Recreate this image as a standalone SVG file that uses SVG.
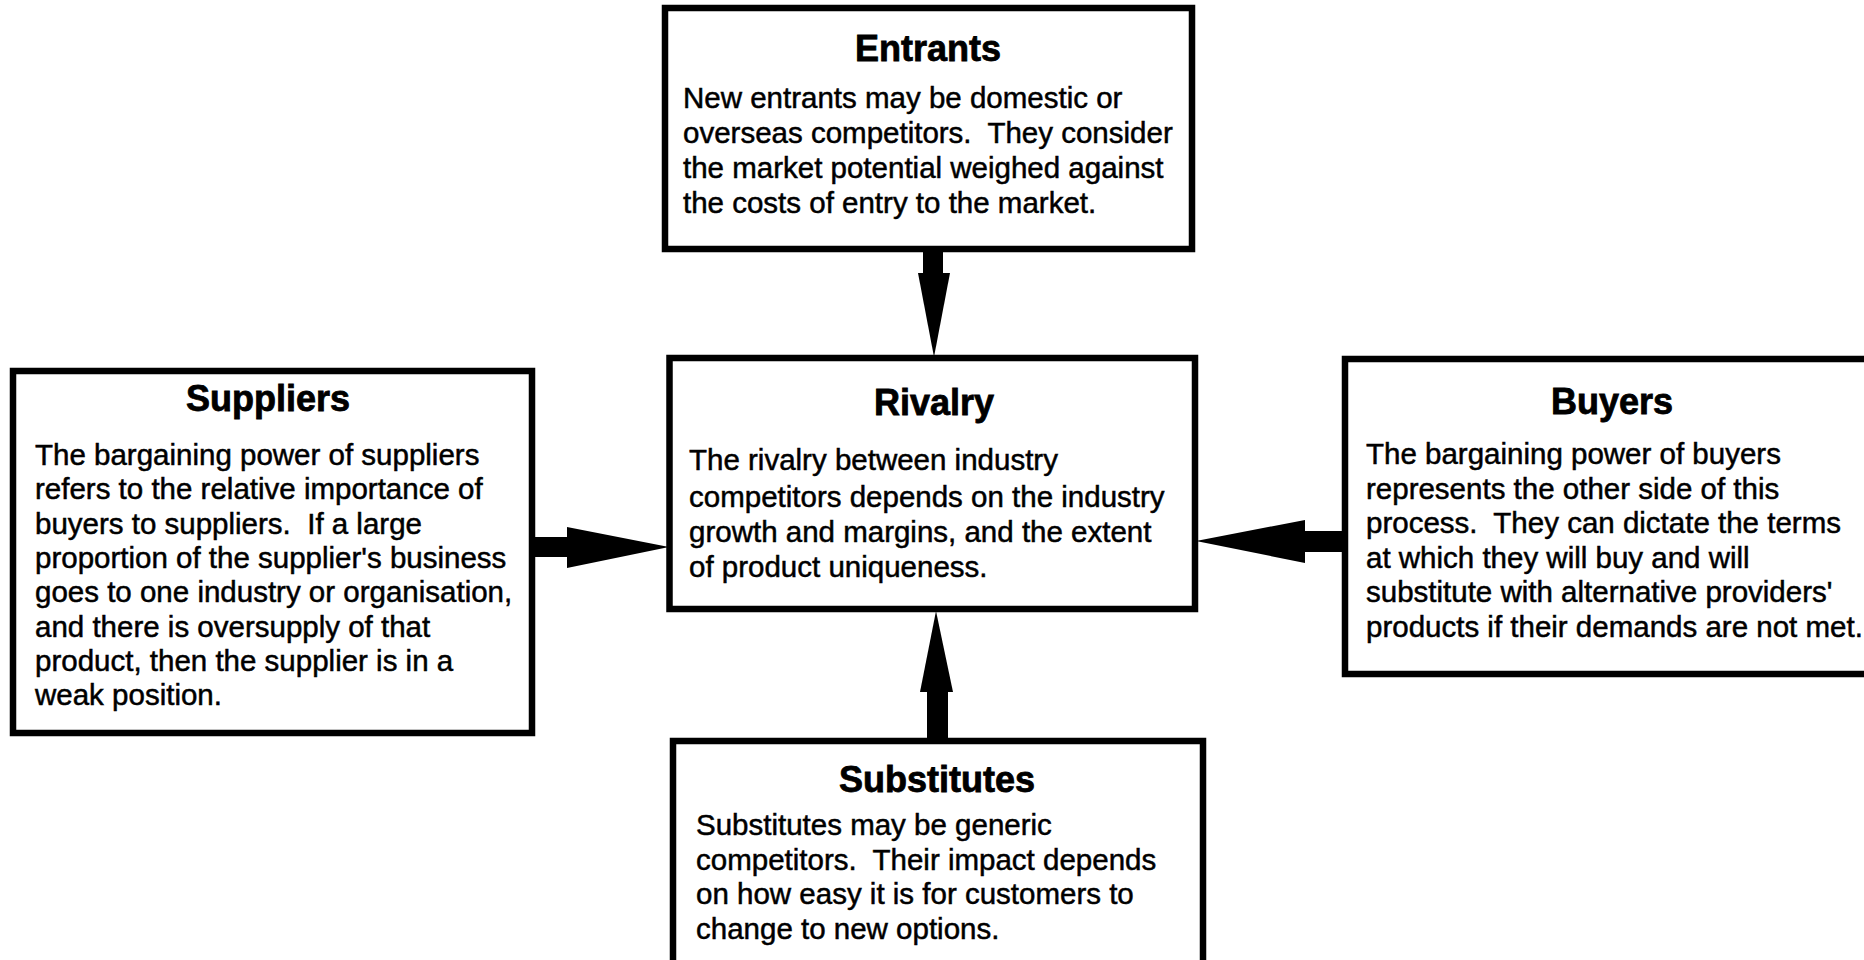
<svg xmlns="http://www.w3.org/2000/svg" width="1864" height="960" viewBox="0 0 1864 960">
  <style>
    .box { fill: #ffffff; stroke: #000000; stroke-width: 6.5; }
    .title { font-family: "Liberation Sans", Arial, sans-serif; font-weight: bold; font-size: 36px; fill: #000000; stroke: #000000; stroke-width: 0.8; text-anchor: middle; }
    .body { font-family: "Liberation Sans", Arial, sans-serif; font-size: 29.5px; fill: #000000; stroke: #000000; stroke-width: 0.5; white-space: pre; }
    .arrow { fill: #000000; stroke: none; }
  </style>
  <rect width="1864" height="960" fill="#ffffff"/>

  <!-- Connectors: four block arrows pointing into the central box -->
  <g id="connectors">
    <g id="arrow-entrants">
      <rect class="arrow" x="923" y="248" width="20" height="26"/>
      <polygon class="arrow" points="918,273 950,273 934,357"/>
    </g>
    <g id="arrow-substitutes">
      <rect class="arrow" x="927" y="691" width="21" height="52"/>
      <polygon class="arrow" points="920,692 953,692 936,611"/>
    </g>
    <g id="arrow-suppliers">
      <rect class="arrow" x="531" y="537" width="37" height="20"/>
      <polygon class="arrow" points="567,527 567,568 669,547"/>
    </g>
    <g id="arrow-buyers">
      <rect class="arrow" x="1304" y="531" width="42" height="21"/>
      <polygon class="arrow" points="1305,520 1305,563 1196,541"/>
    </g>
  </g>

  <g id="entrants">
    <rect class="box" x="665" y="8" width="527" height="241"/>
    <text class="title" x="928" y="61">Entrants</text>
    <text class="body" xml:space="preserve" x="683" y="108">New entrants may be domestic or</text>
    <text class="body" xml:space="preserve" x="683" y="143">overseas competitors.  They consider</text>
    <text class="body" xml:space="preserve" x="683" y="178">the market potential weighed against</text>
    <text class="body" xml:space="preserve" x="683" y="213">the costs of entry to the market.</text>
  </g>

  <g id="suppliers">
    <rect class="box" x="13" y="371" width="519" height="362"/>
    <text class="title" x="268" y="411">Suppliers</text>
    <text class="body" xml:space="preserve" x="35" y="465">The bargaining power of suppliers</text>
    <text class="body" xml:space="preserve" x="35" y="499">refers to the relative importance of</text>
    <text class="body" xml:space="preserve" x="35" y="534">buyers to suppliers.  If a large</text>
    <text class="body" xml:space="preserve" x="35" y="568">proportion of the supplier's business</text>
    <text class="body" xml:space="preserve" x="35" y="602">goes to one industry or organisation,</text>
    <text class="body" xml:space="preserve" x="35" y="637">and there is oversupply of that</text>
    <text class="body" xml:space="preserve" x="35" y="671">product, then the supplier is in a</text>
    <text class="body" xml:space="preserve" x="35" y="705">weak position.</text>
  </g>

  <g id="rivalry">
    <rect class="box" x="669.5" y="358" width="525.5" height="251"/>
    <text class="title" x="934" y="415">Rivalry</text>
    <text class="body" xml:space="preserve" x="689" y="470">The rivalry between industry</text>
    <text class="body" xml:space="preserve" x="689" y="507">competitors depends on the industry</text>
    <text class="body" xml:space="preserve" x="689" y="542">growth and margins, and the extent</text>
    <text class="body" xml:space="preserve" x="689" y="577">of product uniqueness.</text>
  </g>

  <g id="buyers">
    <rect class="box" x="1345" y="359" width="530" height="315"/>
    <text class="title" x="1612" y="414">Buyers</text>
    <text class="body" xml:space="preserve" x="1366" y="464">The bargaining power of buyers</text>
    <text class="body" xml:space="preserve" x="1366" y="499">represents the other side of this</text>
    <text class="body" xml:space="preserve" x="1366" y="533">process.  They can dictate the terms</text>
    <text class="body" xml:space="preserve" x="1366" y="568">at which they will buy and will</text>
    <text class="body" xml:space="preserve" x="1366" y="602">substitute with alternative providers'</text>
    <text class="body" xml:space="preserve" x="1366" y="637">products if their demands are not met.</text>
  </g>

  <g id="substitutes">
    <rect class="box" x="673" y="741" width="530" height="240"/>
    <text class="title" x="937" y="792">Substitutes</text>
    <text class="body" xml:space="preserve" x="696" y="835">Substitutes may be generic</text>
    <text class="body" xml:space="preserve" x="696" y="870">competitors.  Their impact depends</text>
    <text class="body" xml:space="preserve" x="696" y="904">on how easy it is for customers to</text>
    <text class="body" xml:space="preserve" x="696" y="939">change to new options.</text>
  </g>
</svg>
